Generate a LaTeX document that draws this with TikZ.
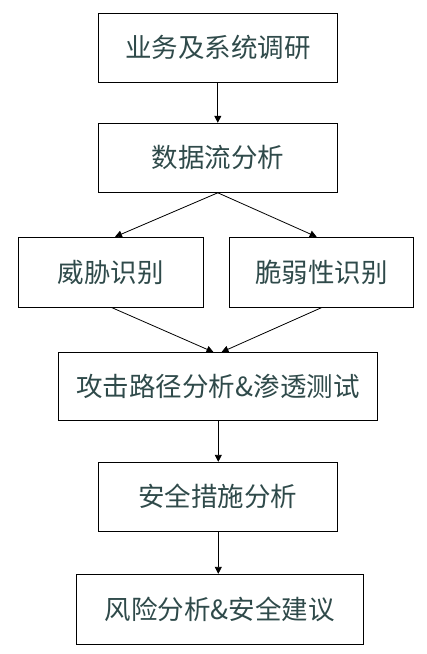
\documentclass[tikz,border=0pt]{standalone}
\usepackage{fontspec}
\newfontfamily\cjk{Noto Sans CJK SC}
\usetikzlibrary{arrows.meta}
\definecolor{txt}{HTML}{2F4A4A}
\begin{document}
\begin{tikzpicture}[x=1pt,y=-1pt,
  box/.style={draw=black,line width=1pt,text=txt,font=\cjk\fontsize{26.5}{30}\selectfont,inner sep=0pt},
  arr/.style={line width=0.8pt,-{Triangle[width=7pt,length=7pt]}}]
\useasboundingbox (0,0) rectangle (427,654);
\node[box,minimum width=239pt,minimum height=69pt] (a) at (217.8,47.6) {业务及系统调研};
\node[box,minimum width=239pt,minimum height=69pt] (b) at (217.8,157.8) {数据流分析};
\node[box,minimum width=185pt,minimum height=69.7pt] (c) at (110.8,272.2) {威胁识别};
\node[box,minimum width=184pt,minimum height=69.7pt] (d) at (321.3,272.2) {脆弱性识别};
\node[box,minimum width=318.6pt,minimum height=68.3pt] (e) at (218,386.8) {攻击路径分析\&渗透测试};
\node[box,minimum width=239pt,minimum height=68.7pt] (f) at (217.8,496.7) {安全措施分析};
\node[box,minimum width=287pt,minimum height=69.7pt] (g) at (219.8,609.2) {风险分析\&安全建议};
\draw[arr] (a.south) -- (b.north);
\draw[arr] (b.south) -- (c.north -| 115,0);
\draw[arr] (b.south) -- (d.north -| 316.7,0);
\draw[arr] (c.south -| 111.7,0) -- (e.north -| 213.5,0);
\draw[arr] (d.south -| 321.7,0) -- (e.north -| 221.5,0);
\draw[arr] (e.south -| 218.3,0) -- (f.north -| 218.3,0);
\draw[arr] (f.south -| 218.3,0) -- (g.north -| 218.3,0);
\end{tikzpicture}
\end{document}
